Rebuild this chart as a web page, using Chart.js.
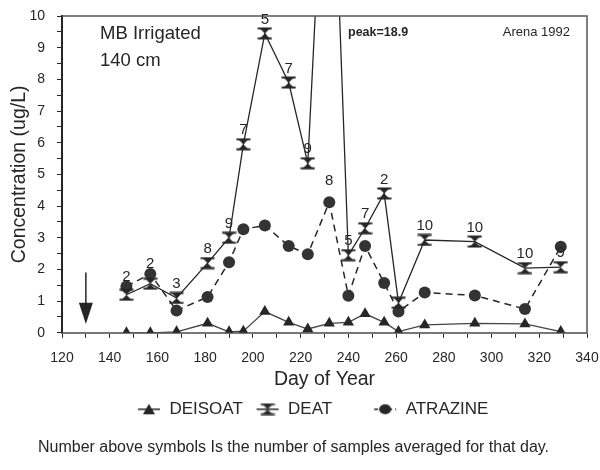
<!DOCTYPE html>
<html>
<head>
<meta charset="utf-8">
<script src="https://cdn.jsdelivr.net/npm/chart.js@4"></script>
<style>
  html, body { margin: 0; background: #fff; }
  #wrap { width: 600px; height: 470px; }
</style>
</head>
<body>
<div id="wrap"><canvas id="chart"></canvas></div>
<script>
// sampling days and concentrations (ug/L)
const days     = [147, 157, 168, 181, 190, 196, 205, 215, 223, 232, 240, 247, 255, 261, 272, 293, 314, 329];
const deisoat  = [0, 0, 0.03, 0.3, 0.03, 0.05, 0.67, 0.33, 0.12, 0.3, 0.33, 0.6, 0.33, 0.04, 0.25, 0.3, 0.28, 0.04];
const deat     = [1.2, 1.55, 1.1, 2.2, 3.0, 5.95, 9.45, 7.9, 5.35, 18.9, 2.45, 3.3, 4.4, 0.95, 2.93, 2.88, 2.04, 2.07];
const atrazine = [1.46, 1.86, 0.7, 1.13, 2.23, 3.27, 3.39, 2.74, 2.48, 4.12, 1.17, 2.74, 1.57, 0.67, 1.27, 1.18, 0.75, 2.72];
// number of samples averaged (shown above the symbols)
const counts   = [2, 2, 3, 8, 9, 7, 5, 7, 9, 8, 5, 7, 2, null, 10, 10, 10, 9];
const seriesNames = ['DEISOAT', 'DEAT', 'ATRAZINE'];
const arrowDay = 130;

const INK = '#262626';
const FONT = "'Liberation Sans', Arial, Helvetica, sans-serif";

function pts(vals) {
    return days.map((d, i) => ({x: d, y: vals[i]}));
}

// hourglass marker used for DEAT
function hourglass() {
    const c = document.createElement('canvas');
    c.width = 15; c.height = 13;
    const g = c.getContext('2d');
    g.fillStyle = INK;
    g.strokeStyle = INK;
    g.lineWidth = 2;
    g.beginPath();
    g.moveTo(0.5, 1.5); g.lineTo(14.5, 1.5);
    g.moveTo(0.5, 11.5); g.lineTo(14.5, 11.5);
    g.stroke();
    g.beginPath();
    g.moveTo(3, 2); g.lineTo(12, 2); g.lineTo(7.5, 6.5); g.closePath();
    g.moveTo(3, 11); g.lineTo(12, 11); g.lineTo(7.5, 6.5); g.closePath();
    g.fill();
    return c;
}
const hourglassImg = hourglass();

// legend icon: short line with the marker in the middle
function legendIcon(i) {
    const c = document.createElement('canvas');
    c.width = 24; c.height = 14;
    const g = c.getContext('2d');
    g.strokeStyle = INK;
    g.fillStyle = INK;
    g.lineWidth = 1.5;
    if (i === 2) g.setLineDash([4, 3]);
    g.beginPath(); g.moveTo(1, 7); g.lineTo(23, 7); g.stroke();
    g.setLineDash([]);
    if (i === 0) {
        g.beginPath(); g.moveTo(12, 1.5); g.lineTo(18, 12); g.lineTo(6, 12); g.closePath(); g.fill();
    } else if (i === 1) {
        g.drawImage(hourglassImg, 4.5, 0.5);
    } else {
        g.beginPath(); g.ellipse(12, 7, 6, 5, 0, 0, Math.PI * 2); g.fill();
    }
    return c;
}
// extra room after each legend entry, as in the original layout
const legendGap = [' ', '       ', '     '];

const extras = {
    id: 'extras',
    afterDatasetsDraw(chart) {
        const {ctx, chartArea: a, scales: {x, y}} = chart;
        ctx.save();
        // frame
        ctx.strokeStyle = '#555';
        ctx.lineWidth = 1.5;
        ctx.beginPath();
        ctx.moveTo(a.left, a.top); ctx.lineTo(a.right, a.top); ctx.lineTo(a.right, a.bottom);
        ctx.stroke();

        // sample counts above the DEAT symbols (or the atrazine dot when it sits just above)
        const meta = chart.getDatasetMeta(1);
        const metaA = chart.getDatasetMeta(2);
        ctx.fillStyle = INK;
        ctx.font = '15px ' + FONT;
        ctx.textAlign = 'center';
        ctx.textBaseline = 'middle';
        counts.forEach((n, i) => {
            if (n == null) return;
            let py;
            if (deat[i] > y.max) py = metaA.data[i].y - 21;
            else {
                py = meta.data[i].y - 14;
                if (atrazine[i] > deat[i] && atrazine[i] - deat[i] < 0.5) py = Math.min(py, metaA.data[i].y - 10);
            }
            ctx.fillText(String(n), meta.data[i].x, py);
        });

        // application arrow
        const ax = x.getPixelForValue(arrowDay);
        const yTop = y.getPixelForValue(1.9);
        const yMid = y.getPixelForValue(0.95);
        const yTip = y.getPixelForValue(0.28);
        ctx.strokeStyle = INK;
        ctx.lineWidth = 1.5;
        ctx.beginPath(); ctx.moveTo(ax, yTop); ctx.lineTo(ax, yMid + 2); ctx.stroke();
        ctx.beginPath(); ctx.moveTo(ax - 7, yMid); ctx.lineTo(ax + 7, yMid); ctx.lineTo(ax, yTip); ctx.closePath(); ctx.fill();

        // annotations
        ctx.textAlign = 'left';
        ctx.font = '18.5px ' + FONT;
        ctx.fillText('MB Irrigated', a.left + 38, a.top + 18);
        ctx.fillText('140 cm', a.left + 38, a.top + 45);
        ctx.font = 'bold 12.5px ' + FONT;
        ctx.fillText('peak=18.9', a.left + 286, a.top + 17);
        ctx.textAlign = 'right';
        ctx.font = '13px ' + FONT;
        ctx.fillText('Arena 1992', a.right - 17, a.top + 16);
        ctx.restore();
    }
};

new Chart(document.getElementById('chart'), {
    type: 'line',
    data: {
        datasets: [
            {
                label: seriesNames[0],
                data: pts(deisoat),
                borderColor: '#444',
                borderWidth: 1.3,
                pointStyle: 'triangle',
                pointRadius: 6.5,
                pointBackgroundColor: INK,
                pointBorderColor: INK,
                pointBorderWidth: 0
            },
            {
                label: seriesNames[1],
                data: pts(deat),
                borderColor: INK,
                borderWidth: 1.3,
                pointStyle: hourglassImg,
                pointRadius: 6
            },
            {
                label: seriesNames[2],
                data: pts(atrazine),
                borderColor: INK,
                borderWidth: 1.5,
                borderDash: [7, 5],
                pointStyle: 'circle',
                pointRadius: 6,
                pointBackgroundColor: '#333',
                pointBorderColor: '#333',
                pointBorderWidth: 0
            }
        ]
    },
    options: {
        responsive: true,
        maintainAspectRatio: false,
        animation: false,
        layout: { padding: { top: 16, right: 13, left: 0, bottom: 3 } },
        scales: {
            x: {
                type: 'linear',
                min: 120,
                max: 340,
                afterFit(s) { s.height = 60; s.paddingLeft = 0; s.paddingRight = 0; },
                border: { color: '#777', width: 2 },
                grid: { drawOnChartArea: false, tickLength: 5, color: INK },
                ticks: {
                    stepSize: 10,
                    autoSkip: false,
                    maxRotation: 0,
                    padding: 12,
                    color: INK,
                    font: { family: FONT, size: 14 },
                    callback: v => (v % 20 === 0 ? v : '')
                },
                title: {
                    display: true,
                    text: 'Day of Year',
                    color: INK,
                    font: { family: FONT, size: 19.5 },
                    padding: { top: 0, bottom: 1 }
                }
            },
            y: {
                min: 0,
                max: 10,
                afterFit(s) { s.width = 62; s.paddingTop = 0; s.paddingBottom = 0; },
                border: { color: INK, width: 2 },
                grid: { drawOnChartArea: false, tickLength: 5, color: INK },
                ticks: {
                    stepSize: 0.5,
                    autoSkip: false,
                    padding: 12,
                    color: INK,
                    font: { family: FONT, size: 14 },
                    callback: v => (Number.isInteger(v) ? v : '')
                },
                title: {
                    display: true,
                    text: 'Concentration (ug/L)',
                    color: INK,
                    font: { family: FONT, size: 19.5 },
                    padding: { top: 8, bottom: 0 }
                }
            }
        },
        plugins: {
            legend: {
                position: 'bottom',
                fullSize: false,
                labels: {
                    usePointStyle: true,
                    pointStyleWidth: 24,
                    padding: 8,
                    color: INK,
                    font: { family: FONT, size: 17 },
                    generateLabels: chart => chart.data.datasets.map((ds, i) => ({
                        text: ds.label + legendGap[i],
                        pointStyle: legendIcon(i),
                        fillStyle: 'transparent',
                        strokeStyle: 'transparent',
                        lineWidth: 0,
                        fontColor: INK,
                        hidden: false,
                        datasetIndex: i
                    }))
                }
            },
            title: {
                display: true,
                position: 'bottom',
                text: 'Number above symbols Is the number of samples averaged for that day.',
                color: INK,
                font: { family: FONT, size: 16, weight: 'normal' },
                padding: { top: 10, bottom: 10 }
            },
            tooltip: { enabled: false }
        }
    },
    plugins: [extras]
});
</script>
</body>
</html>
